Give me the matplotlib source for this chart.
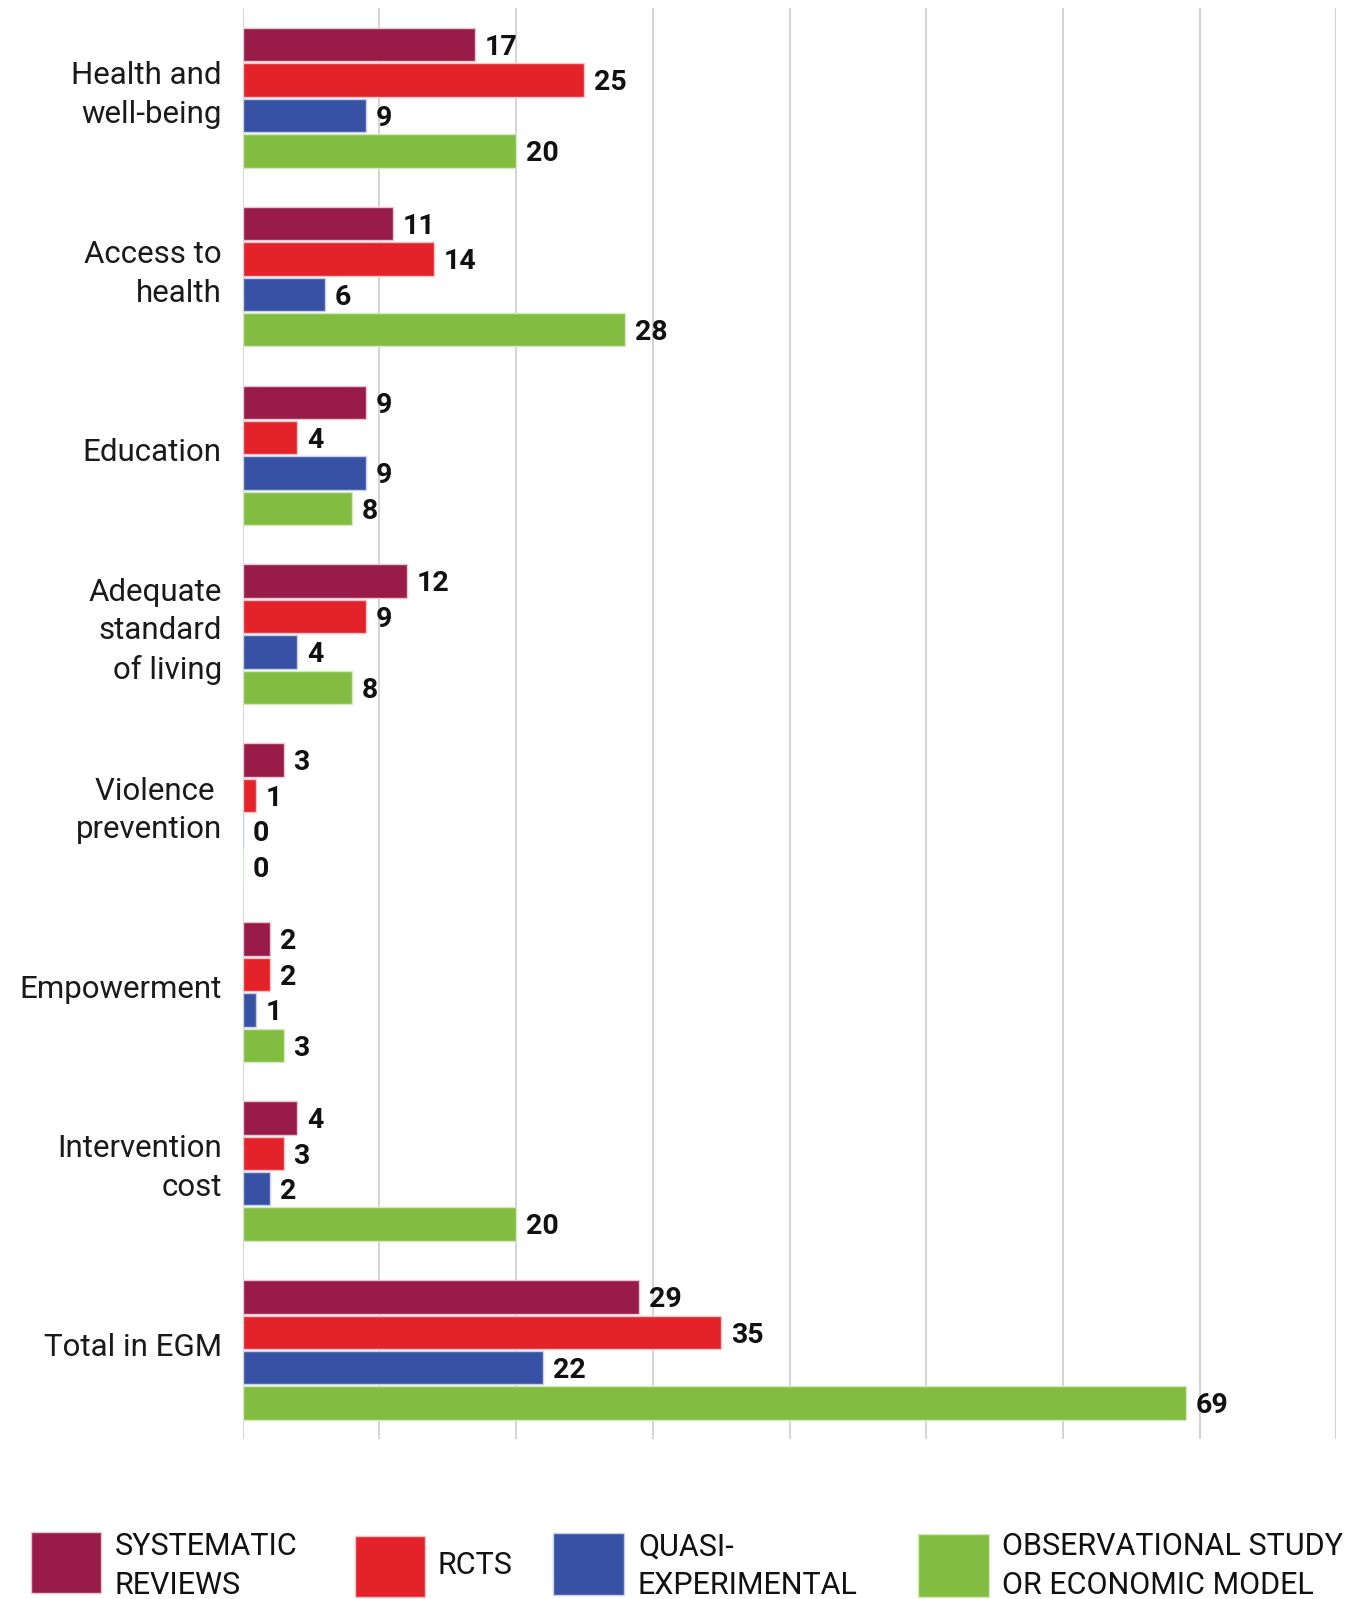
import matplotlib
matplotlib.use("Agg")
import matplotlib.pyplot as plt
from matplotlib.patches import Rectangle

# Evidence counts by outcome domain and study design
categories = [
    "Health and\nwell-being",
    "Access to\nhealth",
    "Education",
    "Adequate\nstandard\nof living",
    "Violence \nprevention",
    "Empowerment",
    "Intervention\ncost",
    "Total in EGM",
]
systematic_reviews = [17, 11, 9, 12, 3, 2, 4, 29]
rcts = [25, 14, 4, 9, 1, 2, 3, 35]
quasi_experimental = [9, 6, 9, 4, 0, 1, 2, 22]
observational = [20, 28, 8, 8, 0, 3, 20, 69]

series = [systematic_reviews, rcts, quasi_experimental, observational]
series_names = [
    "SYSTEMATIC\nREVIEWS",
    "RCTS",
    "QUASI-\nEXPERIMENTAL",
    "OBSERVATIONAL STUDY\nOR ECONOMIC MODEL",
]
colors = ["#981B48", "#E32229", "#3751A4", "#82BD41"]
edge_colors = ["#E8C6D2", "#F6C4C6", "#C9D0EA", "#D6EAC0"]
FONT = ["Roboto", "DejaVu Sans"]

W, H = 1364, 1599
fig = plt.figure(figsize=(W / 100, H / 100), dpi=100)
ax = fig.add_axes([242.6 / W, 1 - 1439.4 / H, (1336.4 - 242.6) / W, (1439.4 - 8.2) / H])

step = 0.198
height = 0.187
for i, (vals, col, ec) in enumerate(zip(series, colors, edge_colors)):
    ys = [g + (i - 1.5) * step for g in range(len(categories))]
    ax.barh(ys, vals, height=height, color=col, edgecolor=ec,
            linewidth=1.0, zorder=3)
    for y, v in zip(ys, vals):
        ax.annotate(str(v), xy=(v, y), xytext=(7, -2), textcoords="offset points",
                    ha="left", va="center", fontsize=20.5, fontweight="bold",
                    family=FONT, color="#111111")

ax.set_xlim(0, 80)
ax.set_ylim(len(categories) - 0.5, -0.5)
ax.set_xticks(range(0, 81, 10))
ax.set_xticklabels([])
ax.set_yticks([])
ax.grid(axis="x", color="#D4D4D4", linewidth=1.4, zorder=0)
ax.set_axisbelow(True)
ax.tick_params(axis="both", length=0)
for s in ax.spines.values():
    s.set_visible(False)

# Category names to the left of each bar group
for g, name in enumerate(categories):
    ax.annotate(name, xy=(0, g), xycoords=("axes fraction", "data"),
                xytext=(-15, 2), textcoords="offset points",
                ha="right", va="center", multialignment="right",
                fontsize=22.5, family=FONT, linespacing=1.42, color="#1a1a1a",
                annotation_clip=False)

# Legend built from patches and text along the bottom edge
legend_items = [
    (31, 1532, 70, 61, 115),
    (355, 1536, 70, 61, 437),
    (553, 1533, 71, 62, 638),
    (918, 1534, 71, 63, 1002),
]
for (x, y, w, h, tx), col, ec, name in zip(legend_items, colors, edge_colors, series_names):
    fig.add_artist(Rectangle((x / W, 1 - (y + h) / H), w / W, h / H,
                             transform=fig.transFigure, facecolor=col,
                             edgecolor=ec, linewidth=1.0))
    fig.text(tx / W, 1 - 1566 / H, name, ha="left", va="center", fontsize=22,
             family=FONT, linespacing=1.42, color="#111111")

fig.savefig("out.png", dpi=100, facecolor="white")
